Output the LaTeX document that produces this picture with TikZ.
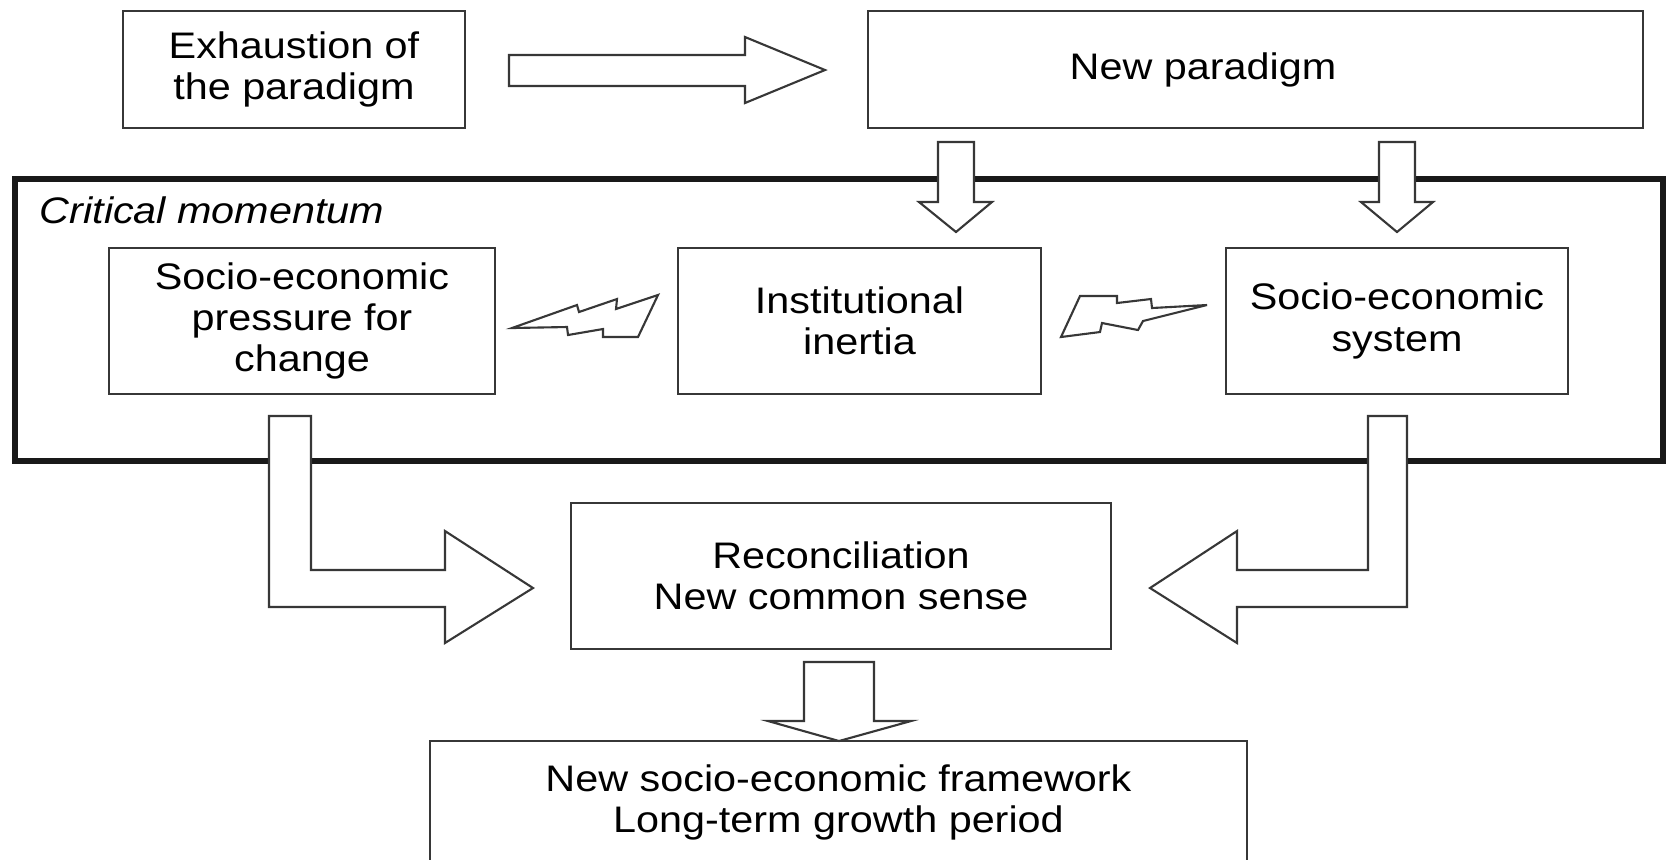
\documentclass[tikz,border=0pt]{standalone}
\usepackage{fontspec}
\setmainfont{Liberation Sans}[FakeStretch=1.12]
\usepackage{tikz}
\usetikzlibrary{positioning,calc}
\usepackage{xcolor}
\definecolor{boxline}{RGB}{55,55,55}
\definecolor{frameline}{RGB}{25,25,25}
\newcommand{\stagefont}{\fontsize{10.5}{11.7}\selectfont}
\tikzset{
    stage/.style={rectangle, draw=boxline, line width=0.6pt, align=center, inner sep=0pt, font=\stagefont},
    blockarrow/.style={draw=boxline, fill=white, line width=0.6pt, line join=miter},
    bolt/.style={draw=boxline, fill=white, line width=0.6pt, line join=miter},
    momentframe/.style={draw=frameline, line width=1.7pt},
    framelabel/.style={font=\stagefont\itshape, inner sep=0pt, anchor=west},
}

\begin{document}
\begin{tikzpicture}[x=0.01cm, y=-0.01cm]
    \useasboundingbox (0,0) rectangle (1670,859);
    % top row
    \node[stage, minimum width=3.42cm, minimum height=1.17cm] (exh) at (294,69.5) {Exhaustion of\\the paradigm};
    \node[stage, minimum width=7.75cm, minimum height=1.17cm] (newpar) at (1255.5,69.5) {New paradigm\hspace*{1.05cm}};
    \draw[blockarrow] (509,55) -- (745,55) -- (745,37) -- (825,70) -- (745,103) -- (745,86) -- (509,86) -- cycle;
    % critical momentum
    \draw[momentframe] (15,179) rectangle (1663,461);
    \node[framelabel] (crit) at (39,210) {Critical momentum};
    \node[stage, minimum width=3.86cm, minimum height=1.46cm] (press) at (302,321) {Socio-economic\\pressure for\\change};
    \node[stage, minimum width=3.63cm, minimum height=1.46cm] (inert) at (859.5,321) {Institutional\\inertia};
    \node[stage, minimum width=3.42cm, minimum height=1.46cm] (system) at (1397,321) {Socio-economic\\system};
    \draw[blockarrow] (938,142) -- (974,142) -- (974,202) -- (992,202) -- (956,232) -- (919,202) -- (938,202) -- cycle;
    \draw[blockarrow] (1379,142) -- (1415,142) -- (1415,202) -- (1433,202) -- (1397,232) -- (1361,202) -- (1379,202) -- cycle;
    % clashes
    \draw[bolt] (512,328) -- (577,305) -- (579,312) -- (617,299) -- (616,309) -- (658,295) -- (638,337)
        -- (603,337) -- (603,329) -- (568,335) -- (567,327) -- cycle;
    \draw[bolt] (1061,337) -- (1080,296) -- (1117,296) -- (1117,303) -- (1151,299) -- (1152,308) -- (1207,305)
        -- (1143,321) -- (1138,330) -- (1102,323) -- (1100,332) -- cycle;
    % outcome
    \node[stage, minimum width=5.40cm, minimum height=1.46cm] (recon) at (841,576) {Reconciliation\\New common sense};
    \node[stage, minimum width=8.17cm, minimum height=1.23cm] (frame) at (838.5,802.5) {New socio-economic framework\\Long-term growth period};
    \draw[blockarrow] (269,416) -- (311,416) -- (311,570) -- (445,570) -- (445,531) -- (533,588) -- (445,643)
        -- (445,607) -- (269,607) -- cycle;
    \draw[blockarrow] (1407,416) -- (1368,416) -- (1368,570) -- (1237,570) -- (1237,531) -- (1150,588) -- (1237,643)
        -- (1237,607) -- (1407,607) -- cycle;
    \draw[blockarrow] (804,662) -- (874,662) -- (874,721) -- (911,721) -- (839,741) -- (768,721) -- (804,721) -- cycle;
\end{tikzpicture}
\end{document}
